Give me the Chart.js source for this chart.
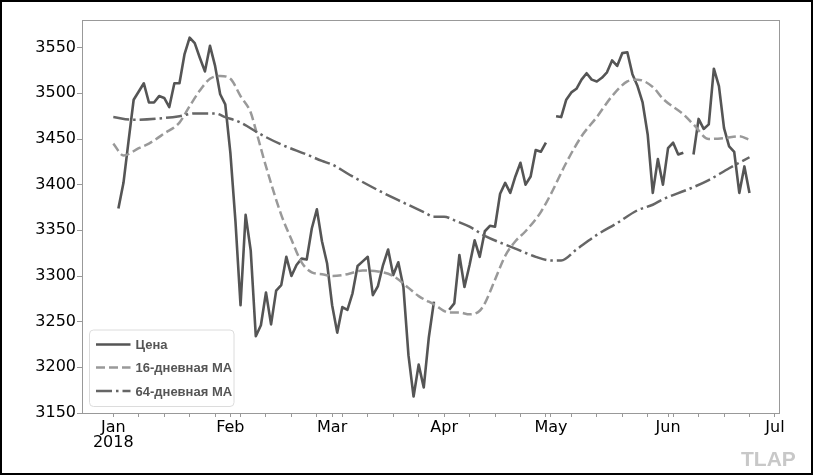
<!DOCTYPE html>
<html><head><meta charset="utf-8">
<script src="https://cdn.jsdelivr.net/npm/chart.js@4"></script>
<style>
html,body{margin:0;padding:0;background:#fff;}
#wrap{position:relative;width:813px;height:475px;overflow:hidden;}
#frame{position:absolute;left:0;top:0;width:813px;height:475px;box-sizing:border-box;border:2px solid #000;pointer-events:none;}
#wm{position:absolute;left:741px;top:447px;font:bold 21px "Liberation Sans",Arial,sans-serif;color:#c8c8c8;letter-spacing:0px;}
</style></head><body>
<div id="wrap"><canvas id="c" width="813" height="475"></canvas><div id="frame"></div><div id="wm">TLAP</div></div>
<script>
// x axis: business-day index counted from Mon 1 Jan 2018
const monthLabels = [['Jan', '2018'], 'Feb', 'Mar', 'Apr', 'May', 'Jun', 'Jul'];
const monthDays = [0, 23, 43, 65, 86, 109, 130];
const weekDays = [0,5,10,15,20,25,30,35,40,45,50,55,60,65,70,75,80,85,90,95,100,105,110,115,120,125,130];
const yTickValues = [3150, 3200, 3250, 3300, 3350, 3400, 3450, 3500, 3550];
const seriesNames = ['Цена', '16-дневная MA', '64-дневная MA'];

// closing price by business day (null = no trading)
const price = [
  null, 3374, 3402, 3448, 3493, 3502, 3511, 3490, 3490, 3497,
  3495, 3485, 3511, 3511, 3543, 3561, 3555, 3539, 3524, 3552,
  3530, 3499, 3488, 3435, 3360, 3268, 3367, 3328, 3234, 3246,
  3282, 3247, 3284, 3290, 3321, 3300, 3312, 3319, 3318, 3352,
  3373, 3338, 3314, 3268, 3238, 3266, 3263, 3281, 3311, 3316,
  3321, 3279, 3289, 3312, 3329, 3301, 3315, 3288, 3213, 3168,
  3203, 3178, 3233, 3272, null, null, 3263, 3270, 3323, 3288,
  3312, 3339, 3321, 3349, 3355, 3354, 3390, 3402, 3391, 3409,
  3424, 3400, 3409, 3438, 3436, 3446, null, 3475, 3474, 3493,
  3501, 3505, 3515, 3522, 3515, 3513, 3517, 3523, 3536, 3530,
  3544, 3545, 3521, 3508, 3490, 3455, 3391, 3428, 3400, 3440,
  3446, 3433, 3435, null, 3433, 3472, 3461, 3466, 3527, 3508,
  3462, 3442, 3436, 3391, 3420, 3391
];

const ma16Days   = [0, 2, 5, 7, 10, 13, 15, 17, 19, 21, 23, 25, 27, 28, 30, 33, 35, 37, 39, 41, 43, 46, 49, 52, 55, 58, 60, 63, 66, 68, 70, 72, 73, 75, 77, 79, 81, 84, 86, 89, 92, 95, 98, 101, 103, 106, 108, 112, 114, 117, 120, 123, 125];
const ma16Values = [3445, 3432, 3440, 3445, 3456, 3468, 3486, 3503, 3516, 3519, 3516, 3497, 3479, 3460, 3420, 3367, 3340, 3315, 3304, 3302, 3300, 3302, 3306, 3305, 3300, 3287, 3278, 3269, 3260, 3260, 3258, 3262, 3270, 3296, 3322, 3338, 3349, 3370, 3390, 3424, 3453, 3474, 3497, 3513, 3515, 3507, 3494, 3477, 3466, 3450, 3451, 3453, 3449];

const ma64Days   = [0, 4, 10, 13, 16, 20, 22, 25, 29, 33, 38, 41, 43, 47, 52, 56, 61, 63, 65, 67, 70, 73, 79, 83, 86, 88, 91, 95, 99, 103, 106, 108, 113, 117, 121, 125];
const ma64Values = [3474, 3471, 3473, 3475, 3478, 3478, 3474, 3468, 3455, 3444, 3433, 3426, 3422, 3409, 3394, 3383, 3370, 3365, 3365, 3361, 3354, 3344, 3330, 3321, 3317, 3317, 3329, 3345, 3358, 3372, 3378, 3384, 3395, 3405, 3418, 3430];

const priceData = price.map((v, i) => ({x: i, y: v}));
const ma16Data = ma16Days.map((d, i) => ({x: d, y: ma16Values[i]}));
const ma64Data = ma64Days.map((d, i) => ({x: d, y: ma64Values[i]}));

const framePlugin = {
  id: 'frame',
  afterDatasetsDraw(chart) {
    const {ctx, chartArea: a} = chart;
    ctx.save();
    ctx.strokeStyle = '#999';
    ctx.lineWidth = 1;
    ctx.strokeRect(Math.round(a.left) + 0.5, Math.round(a.top) + 0.5, Math.round(a.right - a.left), Math.round(a.bottom - a.top));
    ctx.restore();
  }
};

const legendPlugin = {
  id: 'mplLegend',
  afterDraw(chart) {
    const {ctx, chartArea: a} = chart;
    const x0 = a.left + 7.5, y0 = a.bottom - 83, w = 144.5, h = 76.5, r = 4;
    ctx.save();
    ctx.beginPath();
    ctx.moveTo(x0 + r, y0);
    ctx.lineTo(x0 + w - r, y0); ctx.quadraticCurveTo(x0 + w, y0, x0 + w, y0 + r);
    ctx.lineTo(x0 + w, y0 + h - r); ctx.quadraticCurveTo(x0 + w, y0 + h, x0 + w - r, y0 + h);
    ctx.lineTo(x0 + r, y0 + h); ctx.quadraticCurveTo(x0, y0 + h, x0, y0 + h - r);
    ctx.lineTo(x0, y0 + r); ctx.quadraticCurveTo(x0, y0, x0 + r, y0);
    ctx.closePath();
    ctx.fillStyle = 'rgba(255,255,255,0.85)';
    ctx.fill();
    ctx.strokeStyle = '#dcdcdc';
    ctx.lineWidth = 1;
    ctx.stroke();
    const rows = [y0 + 14.5, y0 + 37.5, y0 + 61];
    chart.data.datasets.forEach((ds, i) => {
      ctx.beginPath();
      ctx.setLineDash(ds.borderDash || []);
      ctx.lineDashOffset = 0;
      ctx.strokeStyle = ds.borderColor;
      ctx.lineWidth = ds.borderWidth;
      ctx.lineCap = 'butt';
      ctx.moveTo(x0 + 6.5, rows[i]);
      ctx.lineTo(x0 + 41, rows[i]);
      ctx.stroke();
      ctx.setLineDash([]);
      ctx.fillStyle = '#555';
      ctx.font = 'bold 13px "Liberation Sans", Arial, sans-serif';
      ctx.textBaseline = 'middle';
      ctx.fillText(ds.label, x0 + 46, rows[i] + 1);
    });
    ctx.restore();
  }
};

new Chart(document.getElementById('c'), {
  type: 'line',
  data: {
    datasets: [
      {label: seriesNames[0], data: priceData, borderColor: '#555', borderWidth: 2.6, pointRadius: 0, spanGaps: false, tension: 0, order: 3, borderJoinStyle: 'round'},
      {label: seriesNames[1], data: ma16Data, borderColor: '#999', borderWidth: 2.5, borderDash: [9, 4], pointRadius: 0, cubicInterpolationMode: 'monotone', order: 2},
      {label: seriesNames[2], data: ma64Data, borderColor: '#666', borderWidth: 2.5, borderDash: [16, 4, 2.5, 4], pointRadius: 0, cubicInterpolationMode: 'monotone', order: 1}
    ]
  },
  options: {
    responsive: false,
    animation: false,
    devicePixelRatio: 1,
    layout: {padding: {top: 20, right: 34, left: 0, bottom: 0}},
    plugins: {legend: {display: false}, tooltip: {enabled: false}},
    scales: {
      x: {
        type: 'linear',
        min: -6.15,
        max: 130.8,
        afterFit(s) { s.height = 62; },
        afterBuildTicks(s) {
          const set = Array.from(new Set(weekDays.concat(monthDays))).sort((a, b) => a - b);
          s.ticks = set.map(v => ({value: v}));
        },
        border: {display: false},
        grid: {display: true, drawOnChartArea: false, drawTicks: true, tickLength: 4, color: '#999'},
        ticks: {
          autoSkip: false, maxRotation: 0, minRotation: 0, padding: 3, color: '#000',
          font: {family: '"DejaVu Sans"', size: 16, lineHeight: 0.95},
          callback(v) { const k = monthDays.indexOf(v); return k >= 0 ? monthLabels[k] : ''; }
        }
      },
      y: {
        type: 'linear',
        min: 3150,
        max: 3580.3,
        afterFit(s) { s.width = 82; },
        afterBuildTicks(s) { s.ticks = yTickValues.map(v => ({value: v})); },
        border: {display: false},
        grid: {display: true, drawOnChartArea: false, drawTicks: true, tickLength: 5, color: '#999'},
        ticks: {padding: 1, color: '#000', font: {family: '"DejaVu Sans"', size: 16}, callback(v) { return String(v); }}
      }
    }
  },
  plugins: [framePlugin, legendPlugin]
});
</script>
</body></html>
